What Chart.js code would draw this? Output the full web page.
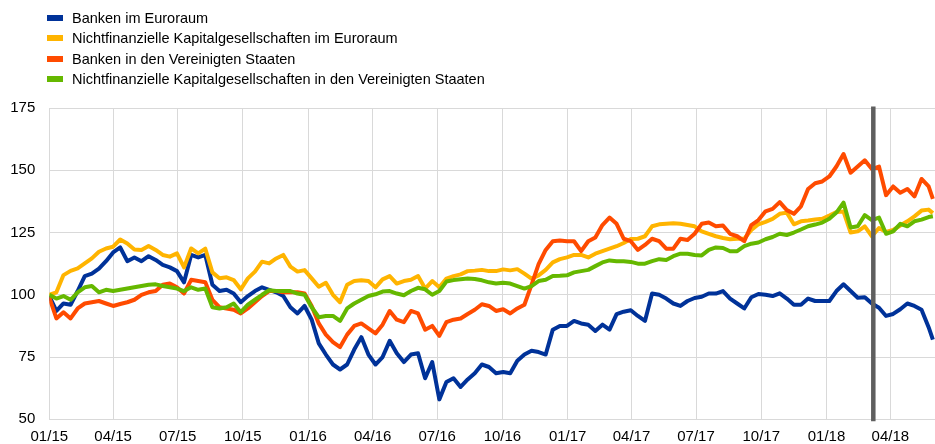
<!DOCTYPE html>
<html>
<head>
<meta charset="utf-8">
<title>Aktienkurse</title>
<script src="https://cdn.jsdelivr.net/npm/chart.js@4.4.1/dist/chart.umd.min.js"></script>
<style>
  body { margin: 0; background: #fff; }
  #wrap { position: relative; width: 935px; height: 444px; }
  #legend {
    position: absolute; left: 0; top: 8px;
    font-family: Arial, "Liberation Sans", sans-serif; font-size: 14.5px; color: #000;
  }
  #legend .item { display: flex; align-items: center; height: 20.3px; white-space: nowrap; }
  #legend .swatch { width: 16px; height: 6px; margin-left: 47px; margin-right: 9px; }
</style>
</head>
<body>
<div id="wrap">
  <canvas id="chart" width="935" height="444"></canvas>
  <div id="legend"></div>
</div>
<script>
// daily index, 1 Jan 2015 = 100 (every 10 days)
var dates = [
  '2015-01-01','2015-01-11','2015-01-21','2015-01-31','2015-02-10','2015-02-20','2015-03-02','2015-03-12','2015-03-22','2015-04-01',
  '2015-04-11','2015-04-21','2015-05-01','2015-05-11','2015-05-21','2015-05-31','2015-06-10','2015-06-20','2015-06-30','2015-07-10',
  '2015-07-20','2015-07-30','2015-08-09','2015-08-19','2015-08-29','2015-09-08','2015-09-18','2015-09-28','2015-10-08','2015-10-18',
  '2015-10-28','2015-11-07','2015-11-17','2015-11-27','2015-12-07','2015-12-17','2015-12-27','2016-01-06','2016-01-16','2016-01-26',
  '2016-02-05','2016-02-15','2016-02-25','2016-03-06','2016-03-16','2016-03-26','2016-04-05','2016-04-15','2016-04-25','2016-05-05',
  '2016-05-15','2016-05-25','2016-06-04','2016-06-14','2016-06-24','2016-07-04','2016-07-14','2016-07-24','2016-08-03','2016-08-13',
  '2016-08-23','2016-09-02','2016-09-12','2016-09-22','2016-10-02','2016-10-12','2016-10-22','2016-11-01','2016-11-11','2016-11-21',
  '2016-12-01','2016-12-11','2016-12-21','2016-12-31','2017-01-10','2017-01-20','2017-01-30','2017-02-09','2017-02-19','2017-03-01',
  '2017-03-11','2017-03-21','2017-03-31','2017-04-10','2017-04-20','2017-04-30','2017-05-10','2017-05-20','2017-05-30','2017-06-09',
  '2017-06-19','2017-06-29','2017-07-09','2017-07-19','2017-07-29','2017-08-08','2017-08-18','2017-08-28','2017-09-07','2017-09-17',
  '2017-09-27','2017-10-07','2017-10-17','2017-10-27','2017-11-06','2017-11-16','2017-11-26','2017-12-06','2017-12-16','2017-12-26',
  '2018-01-05','2018-01-15','2018-01-25','2018-02-04','2018-02-14','2018-02-24','2018-03-06','2018-03-16','2018-03-26','2018-04-05',
  '2018-04-15','2018-04-25','2018-05-05','2018-05-15','2018-05-25','2018-05-31'
];

var bankenEuro = [
  99.5, 93.5, 96.5, 96, 101.5, 107.5, 108.5, 110.5, 113.5, 117,
  119, 113.5, 115, 113.5, 115.5, 114, 112, 111, 109.5, 105,
  116, 115, 116, 104, 101.5, 102, 100.5, 97, 99.5, 101.5,
  103, 102, 101, 99.5, 95, 92.5, 95.5, 90, 80.5, 76,
  72, 70, 72, 78, 83, 76, 72, 75, 81.5, 76.5,
  73, 76, 76.5, 66.5, 73, 58, 65, 66.5, 63, 66,
  68.5, 72, 71, 68.5, 69, 68.5, 73.5, 76, 77.5, 77,
  76, 86, 87.5, 87.5, 89.5, 88.5, 88, 85.5, 88, 86,
  92.2, 93.2, 93.8, 91.5, 89.5, 100.5, 100, 98.5, 96.5, 95.5,
  97.5, 98.7, 99.2, 100.5, 100.5, 101.5, 98.5, 96.5, 94.5, 99,
  100.3, 100, 99.5, 100.6, 98.5, 96, 96, 98.5, 97.5, 97.5,
  97.5, 101.5, 104.2, 101.5, 98.8, 99, 96.5, 94.8, 91.5, 92.3,
  94.2, 96.5, 95.5, 94, 87, 82
];

var nfkEuro = [
  100, 101, 107.9, 109.6, 110.6, 112.6, 114.6, 117.3, 118.6, 119.3,
  122.2, 120.6, 118.2, 118, 119.6, 118, 116, 115.3, 116.6, 111,
  118.6, 116.6, 118.5, 109, 106.6, 107, 105.9, 102.2, 106.6, 109.3,
  113.3, 112.6, 114.6, 116, 111.3, 109.3, 109.9, 106.6, 103.2, 104.8,
  100, 97, 104, 105.5, 105.8, 105.5, 103, 106.2, 107.5, 104.5,
  105.5, 106, 107.5, 102.5, 105.5, 103, 106.5, 107.5, 108.2, 109.5,
  109.7, 110, 109.5, 109.5, 110.2, 109.8, 110.3, 108.5, 106.5, 107.8,
  110, 113, 114.3, 115, 116, 116, 115, 116.5, 117.5, 118.5,
  119.5, 120.8, 122.4, 122.5, 123.5, 127.5, 128.3, 128.5, 128.7, 128.5,
  128, 127.5, 125.5, 124.5, 123.5, 122.8, 122.3, 122.5, 122.5, 126,
  128.3, 129.3, 130.5, 132.5, 133, 128.3, 129.5, 129.8, 130.2, 130.5,
  131.8, 133.2, 133.4, 125, 125.5, 127.5, 123.5, 126.8, 125.2, 126,
  127.8, 129.5, 131.5, 133.8, 134.2, 132.8
];

var bankenUS = [
  99, 90.5, 93, 90.5, 94.5, 96.5, 97, 97.5, 96.5, 95.5,
  96.3, 97, 98, 100, 101, 101.5, 104, 104.5, 103, 100.5,
  106, 105.5, 105, 98, 95, 94.5, 94, 92.5, 94.5, 97,
  99.5, 101.5, 101.5, 101, 101, 101, 100.5, 95.5, 88.5, 84,
  81, 79, 84, 87.5, 88.5, 86.5, 84.5, 88, 93.5, 90,
  89, 93.5, 92.5, 86, 87.5, 83.5, 89, 90, 90.5, 92.3,
  94, 96.2, 95.5, 93.5, 94.2, 92.5, 94.5, 96, 104, 112.3,
  118, 121.5, 121.8, 121.5, 121.5, 117.5, 121.5, 123, 128, 131,
  128.5, 122.5, 121.5, 118, 120, 122.5, 121.5, 118.5, 118.5, 122.5,
  122, 124.5, 128.5, 129, 127.5, 127.8, 124.5, 123.5, 121.5, 128,
  130, 133.5, 134.5, 137.2, 134, 132.5, 135.5, 142.5, 144.8, 145.5,
  147.5, 151.5, 156.5, 149, 151.5, 154, 150.5, 151.5, 140, 143.5,
  141, 142.5, 139.5, 146.5, 143.5, 138.5
];

var nfkUS = [
  100, 98.5, 99.5, 98, 101, 103, 103.5, 101, 102, 101.5,
  102, 102.5, 103, 103.5, 104, 104.2, 103.5, 103, 102.5, 101.5,
  103, 102, 102.5, 95, 94.5, 95, 96.5, 93, 96, 98,
  100, 101.8, 101.5, 101.5, 101.5, 100.5, 100, 95, 91, 91.5,
  91.5, 89.5, 94.5, 96.5, 98, 99.5, 100.2, 101.3, 101.5, 100.5,
  99.8, 101.5, 102.8, 102.2, 100, 101.5, 105.3, 105.9, 106.2, 106.5,
  106.3, 105.8, 105, 104.5, 104.8, 104.5, 103.5, 102.5, 103.5, 105.5,
  106, 107.5, 107.6, 107.8, 109, 109.5, 110, 111.5, 113, 113.8,
  113.5, 113.5, 113.2, 112.5, 112.5, 113.5, 114.3, 114, 115.5, 116.5,
  116.5, 116, 115.8, 118, 119, 118.8, 117.5, 117.5, 119.5, 120.5,
  121, 122.3, 123.2, 124.5, 124, 125, 126.2, 127.5, 128.2, 129,
  130.5, 133, 137, 127, 127.5, 132, 130, 131, 124.5, 125.5,
  128.5, 127.5, 129.5, 130.2, 131.2, 131.5
];

var seriesNames = [
  'Banken im Euroraum',
  'Nichtfinanzielle Kapitalgesellschaften im Euroraum',
  'Banken in den Vereinigten Staaten',
  'Nichtfinanzielle Kapitalgesellschaften in den Vereinigten Staaten'
];
var seriesColors = ['#003299', '#ffb400', '#ff4b00', '#65b800'];

var tickDates = ['2015-01-01','2015-04-01','2015-07-01','2015-10-01','2016-01-01','2016-04-01','2016-07-01',
                 '2016-10-01','2017-01-01','2017-04-01','2017-07-01','2017-10-01','2018-01-01','2018-04-01'];
var tickLabels = ['01/15','04/15','07/15','10/15','01/16','04/16','07/16','10/16','01/17','04/17','07/17','10/17','01/18','04/18'];
var yTicks = [50, 75, 100, 125, 150, 175];
var markerDate = '2018-03-08';   // vertical line
var axisEnd = '2018-06-03';

var FONT = 'Arial, "Liberation Sans", sans-serif';

// days since 1 Jan 2015
function dayNum(s) {
  var p = s.split('-');
  return (Date.UTC(+p[0], +p[1] - 1, +p[2]) - Date.UTC(2015, 0, 1)) / 86400000;
}

function toPoints(values) {
  return values.map(function (v, i) { return { x: dayNum(dates[i]), y: v }; });
}

var allSeries = [bankenEuro, nfkEuro, bankenUS, nfkUS];

var datasets = allSeries.map(function (vals, i) {
  return {
    label: seriesNames[i],
    data: toPoints(vals),
    borderColor: seriesColors[i],
    backgroundColor: seriesColors[i],
    borderWidth: 4,
    pointRadius: 0,
    tension: 0,
    borderJoinStyle: 'round',
    order: 3 - i   // green drawn on top, blue at the bottom
  };
});

// dark vertical line
var markerLine = {
  id: 'markerLine',
  afterDatasetsDraw: function (chart) {
    var x = chart.scales.x.getPixelForValue(dayNum(markerDate));
    var area = chart.chartArea;
    var ctx = chart.ctx;
    ctx.save();
    ctx.strokeStyle = '#5f5f5f';
    ctx.lineWidth = 4.5;
    ctx.beginPath();
    ctx.moveTo(x, area.top - 1.5);
    ctx.lineTo(x, area.bottom + 2);
    ctx.stroke();
    ctx.restore();
  }
};

var config = {
  type: 'line',
  data: { datasets: datasets },
  options: {
    responsive: false,
    animation: false,
    layout: { padding: { top: 108, right: 0, bottom: 0, left: 0 } },
    plugins: {
      legend: { display: false },
      tooltip: { enabled: false }
    },
    scales: {
      x: {
        type: 'linear',
        min: 0,
        max: dayNum(axisEnd),
        afterBuildTicks: function (scale) {
          scale.ticks = tickDates.map(function (d) { return { value: dayNum(d) }; });
        },
        afterFit: function (scale) { scale.height = 24.7; },
        ticks: {
          autoSkip: false,
          maxRotation: 0,
          padding: 9,
          color: '#000',
          font: { family: FONT, size: 15 },
          callback: function (v, i) { return tickLabels[i]; }
        },
        grid: { color: '#d9d9d9', lineWidth: 1, drawTicks: false },
        border: { display: false }
      },
      y: {
        min: yTicks[0],
        max: yTicks[yTicks.length - 1],
        afterBuildTicks: function (scale) {
          scale.ticks = yTicks.map(function (v) { return { value: v }; });
        },
        afterFit: function (scale) { scale.width = 49.3; },
        ticks: {
          padding: 14,
          color: '#000',
          font: { family: FONT, size: 15 }
        },
        grid: { color: '#d9d9d9', lineWidth: 1, drawTicks: false },
        border: { display: false }
      }
    }
  },
  plugins: [markerLine]
};

window.onload = function () {
  var ctx = document.getElementById('chart').getContext('2d');
  window.myChart = new Chart(ctx, config);

  // legend in the top-left corner, one series per row
  var legend = document.getElementById('legend');
  datasets.forEach(function (ds) {
    var item = document.createElement('div');
    item.className = 'item';
    var sw = document.createElement('span');
    sw.className = 'swatch';
    sw.style.background = ds.borderColor;
    var txt = document.createElement('span');
    txt.textContent = ds.label;
    item.appendChild(sw);
    item.appendChild(txt);
    legend.appendChild(item);
  });
};
</script>
</body>
</html>
